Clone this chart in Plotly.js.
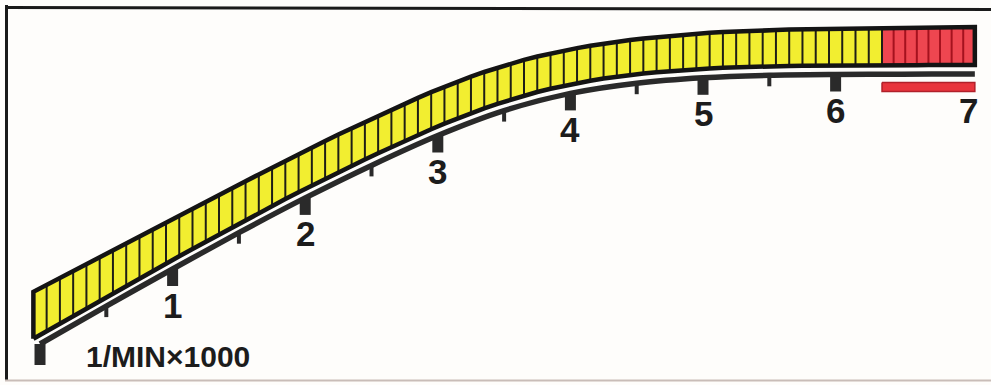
<!DOCTYPE html>
<html>
<head>
<meta charset="utf-8">
<script src="https://cdn.plot.ly/plotly-3.0.1.min.js"></script>
<style>
  html, body { margin: 0; padding: 0; background: #fefdfb; }
  #chart { width: 991px; height: 385px; }
</style>
</head>
<body>
<div id="chart"></div>
<script>
// ---------------- DATA ----------------
// Segment counts of the bar display (each yellow segment = 100 1/min)
const yellowCount = 64;
const redCount = 8;
// Band edge heights (bottom / top of the segmented band) at each segment edge
const bandBottom = [
  46.2, 53.8, 61.4, 69.0, 76.6, 84.1, 91.6, 99.1, 106.5, 113.9,
  121.3, 128.7, 136.0, 143.3, 150.5, 157.7, 164.8, 171.9, 178.9, 185.9,
  192.7, 199.5, 206.1, 212.7, 219.1, 225.5, 231.7, 237.9, 243.9, 249.9,
  255.7, 261.3, 266.7, 271.8, 276.7, 281.2, 285.5, 289.4, 293.0, 296.3,
  299.2, 301.9, 304.3, 306.4, 308.3, 310.0, 311.5, 312.8, 314.0, 315.0,
  315.8, 316.6, 317.2, 317.8, 318.2, 318.6, 318.8, 319.1, 319.2, 319.4,
  319.5, 319.5, 319.6, 319.6, 319.7,
  319.7, 319.8, 319.8, 319.9, 319.9, 319.9, 320.0, 320.0
];
const bandTop = [
  93.2, 100.1, 106.9, 113.8, 120.7, 127.5, 134.3, 141.2, 148.0, 154.8,
  161.6, 168.6, 175.7, 182.8, 189.8, 196.8, 203.7, 210.6, 217.4, 224.2,
  230.8, 237.5, 244.0, 250.5, 256.8, 263.1, 269.2, 275.3, 281.2, 287.1,
  292.8, 298.2, 303.4, 308.3, 313.0, 317.3, 321.4, 325.1, 328.5, 331.6,
  334.3, 336.9, 339.3, 341.4, 343.3, 345.0, 346.6, 348.0, 349.3, 350.4,
  351.3, 352.2, 352.9, 353.6, 354.1, 354.6, 354.9, 355.4, 355.7, 356.1,
  356.4, 356.6, 356.8, 356.9, 357.1,
  357.2, 357.3, 357.4, 357.6, 357.7, 357.7, 357.9, 358.0
];
// Scale line (height at every half step of 1/min x 1000)
const scaleRpm      = [0, 0.5, 1, 1.5, 2, 2.5, 3, 3.5, 4, 4.5, 5, 5.5, 6, 6.5, 7];
const scaleBaseline = [41, 78.9, 116, 152.3, 187.1, 219.6, 249.5, 274.4, 291.6, 301.8, 307.2, 309.7, 310.5, 310.8, 311];
const majorTicks = [0, 1, 2, 3, 4, 5, 6];
const minorTicks = [0.5, 1.5, 2.5, 3.5, 4.5, 5.5];
const tickLabels = ['1', '2', '3', '4', '5', '6', '7'];
const tickLabelRpm = [1, 2, 3, 4, 5, 6, 7];
const unitLabel = '1/MIN×1000';

// ---------------- BUILD ----------------
const segStart = -0.05, yellowStep = 0.1, segEnd = 7.05;
const edges = [];
for (let k = 0; k <= yellowCount; k++) edges.push(+(segStart + yellowStep * k).toFixed(4));
const redStart = edges[yellowCount];
for (let j = 1; j <= redCount; j++) edges.push(+(redStart + (segEnd - redStart) * j / redCount).toFixed(4));

const baseAt = r => scaleBaseline[scaleRpm.indexOf(r)];
const traces = [];

function bandPolygon(i0, i1) {
  const xs = edges.slice(i0, i1 + 1);
  const x = xs.concat(xs.slice().reverse(), [xs[0]]);
  const y = bandBottom.slice(i0, i1 + 1).concat(bandTop.slice(i0, i1 + 1).reverse(), [bandBottom[i0]]);
  return { x, y };
}
const nEdge = yellowCount + redCount;
// yellow zone fill
{
  const p = bandPolygon(0, yellowCount);
  traces.push({ type: 'scatter', mode: 'lines', fill: 'toself', x: p.x, y: p.y,
    fillcolor: '#f2ee30', line: { width: 0 }, hoverinfo: 'skip', showlegend: false });
}
// red zone fill
{
  const p = bandPolygon(yellowCount, nEdge);
  traces.push({ type: 'scatter', mode: 'lines', fill: 'toself', x: p.x, y: p.y,
    fillcolor: '#ee4650', line: { width: 0 }, hoverinfo: 'skip', showlegend: false });
}
// segment dividers
{
  const xy = [], yy = [], xr = [], yr = [];
  for (let k = 1; k < nEdge; k++) {
    const red = k > yellowCount;
    (red ? xr : xy).push(edges[k], edges[k], null);
    (red ? yr : yy).push(bandBottom[k], bandTop[k], null);
  }
  traces.push({ type: 'scatter', mode: 'lines', x: xy, y: yy,
    line: { color: '#1e1e16', width: 2 }, hoverinfo: 'skip', showlegend: false });
  traces.push({ type: 'scatter', mode: 'lines', x: xr, y: yr,
    line: { color: '#a5121e', width: 2 }, hoverinfo: 'skip', showlegend: false });
}
// outer outline of the band
{
  const p = bandPolygon(0, nEdge);
  traces.push({ type: 'scatter', mode: 'lines', x: p.x, y: p.y,
    line: { color: '#141414', width: 4.5 }, hoverinfo: 'skip', showlegend: false });
}
// scale line
traces.push({
  type: 'scatter', mode: 'lines',
  x: scaleRpm.concat([segEnd]),
  y: scaleBaseline.concat([scaleBaseline[scaleBaseline.length - 1]]),
  line: { color: '#2a2a2a', width: 5.5, shape: 'spline', smoothing: 0.8 },
  hoverinfo: 'skip', showlegend: false
});
// major ticks
{
  const x = [], y = [];
  majorTicks.forEach(t => { x.push(t, t, null); y.push(baseAt(t), baseAt(t) - (t === 0 ? 21 : 17), null); });
  traces.push({ type: 'scatter', mode: 'lines', x, y, line: { color: '#2a2a2a', width: 11 },
    hoverinfo: 'skip', showlegend: false });
}
// minor ticks
{
  const x = [], y = [];
  minorTicks.forEach(t => { x.push(t, t, null); y.push(baseAt(t), baseAt(t) - 11, null); });
  traces.push({ type: 'scatter', mode: 'lines', x, y, line: { color: '#2a2a2a', width: 4 },
    hoverinfo: 'skip', showlegend: false });
}
// red zone bar under the scale line
{
  const b = scaleBaseline[scaleBaseline.length - 1];
  traces.push({
    type: 'scatter', mode: 'lines', fill: 'toself',
    x: [redStart, segEnd, segEnd, redStart, redStart],
    y: [b - 8.5, b - 8.5, b - 17.5, b - 17.5, b - 8.5],
    fillcolor: '#e8343c', line: { color: '#b0202a', width: 1.5 },
    hoverinfo: 'skip', showlegend: false
  });
}

const annotations = tickLabels.map((t, i) => ({
  x: tickLabelRpm[i], y: baseAt(tickLabelRpm[i]) - 36, xref: 'x', yref: 'y',
  text: t, showarrow: false, xanchor: 'center', yanchor: 'middle',
  font: { family: 'Liberation Sans, Arial, sans-serif', size: 35, color: '#1c1c1c', weight: 'bold' }
}));
annotations.push({
  x: 0.335, y: 29, xref: 'x', yref: 'y', text: unitLabel, showarrow: false,
  xanchor: 'left', yanchor: 'middle',
  font: { family: 'Liberation Sans, Arial, sans-serif', size: 30, color: '#1c1c1c', weight: 'bold' }
});

const W = 991, H = 385;
const px = v => v / W, py = v => 1 - v / H;
const layout = {
  width: W, height: H,
  margin: { l: 0, r: 0, t: 0, b: 0 },
  paper_bgcolor: '#fefdfb', plot_bgcolor: '#fefdfb',
  xaxis: { range: [-0.3017, 7.1719], visible: false, fixedrange: true },
  yaxis: { range: [0, 385], visible: false, fixedrange: true },
  showlegend: false,
  annotations,
  shapes: [
    { type: 'line', xref: 'paper', yref: 'paper', x0: px(6.5), x1: px(6.5), y0: py(5), y1: py(381),
      line: { color: '#1a1a1a', width: 3 } },
    { type: 'line', xref: 'paper', yref: 'paper', x0: px(5), x1: 1, y0: py(7.5), y1: py(9.5),
      line: { color: '#1a1a1a', width: 3 } },
    { type: 'line', xref: 'paper', yref: 'paper', x0: px(5), x1: 1, y0: py(380.5), y1: py(380.5),
      line: { color: '#c9bdb8', width: 2 } }
  ]
};
Plotly.newPlot('chart', traces, layout, { staticPlot: true, displayModeBar: false });
</script>
</body>
</html>
